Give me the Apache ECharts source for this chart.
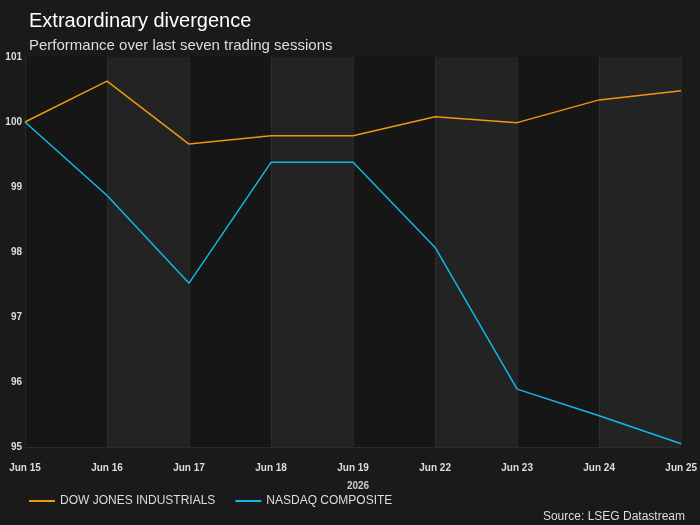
<!DOCTYPE html>
<html>
<head>
<meta charset="utf-8">
<script src="https://cdn.jsdelivr.net/npm/echarts@6/dist/echarts.min.js"></script>
<style>
html, body, #main { width: 100%; height: 100%; margin: 0; background: #1a1a1a; }
</style>
</head>
<body>
<div id="main"></div>
<script>
const dates = ['Jun 15', 'Jun 16', 'Jun 17', 'Jun 18', 'Jun 19', 'Jun 22', 'Jun 23', 'Jun 24', 'Jun 25'];
const dow = [100, 100.63, 99.66, 99.79, 99.79, 100.08, 99.99, 100.34, 100.48];
const nasdaq = [100, 98.87, 97.52, 99.38, 99.38, 98.07, 95.89, 95.48, 95.05];

var myChart = echarts.init(document.getElementById('main'));
var font = 'Liberation Sans, Arial, sans-serif';
option = {
    backgroundColor: '#1a1a1a',
    textStyle: { fontFamily: font },
    title: [
        { text: 'Extraordinary divergence', left: 24, top: 6,
          textStyle: { color: '#ffffff', fontSize: 20, fontWeight: 'normal', fontFamily: font } },
        { text: 'Performance over last seven trading sessions', left: 24, top: 33,
          textStyle: { color: '#dddddd', fontSize: 15, fontWeight: 'normal', fontFamily: font } },
        { text: '2026', left: 353, top: 476, textAlign: 'center',
          textStyle: { color: '#cccccc', fontSize: 10, fontWeight: 'bold', fontFamily: font } },
        { text: 'Source: LSEG Datastream', right: 10, top: 506,
          textStyle: { color: '#dddddd', fontSize: 12, fontWeight: 'normal', fontFamily: font } }
    ],
    legend: {
        left: 24, top: 490, itemWidth: 26, itemHeight: 2, itemGap: 20,
        icon: 'rect',
        textStyle: { color: '#dddddd', fontSize: 12, fontFamily: font },
        data: ['DOW JONES INDUSTRIALS', 'NASDAQ COMPOSITE']
    },
    grid: { left: 25, right: 17, top: 57, bottom: 78 },
    xAxis: {
        type: 'category', data: dates, boundaryGap: false,
        axisLine: { show: false }, axisTick: { show: false },
        axisLabel: { color: '#dddddd', fontSize: 10, fontWeight: 'bold', margin: 16,
                     alignMinLabel: 'center', alignMaxLabel: 'center' },
        splitLine: { show: true, lineStyle: { color: '#3a3a3a', type: 'dotted' } },
        splitArea: { show: true, areaStyle: { color: ['#161616', '#232323'] } }
    },
    yAxis: {
        type: 'value', min: 95, max: 101, interval: 1,
        axisLine: { show: false }, axisTick: { show: false },
        axisLabel: { color: '#dddddd', fontSize: 10, fontWeight: 'bold', margin: 3 },
        splitLine: { lineStyle: { color: '#3a3a3a', type: 'dotted' } }
    },
    series: [
        { name: 'DOW JONES INDUSTRIALS', type: 'line', data: dow, symbol: 'none',
          color: '#f0960f', lineStyle: { width: 1.5 } },
        { name: 'NASDAQ COMPOSITE', type: 'line', data: nasdaq, symbol: 'none',
          color: '#11b8e8', lineStyle: { width: 1.5 } }
    ]
};
myChart.setOption(option);
</script>
</body>
</html>
